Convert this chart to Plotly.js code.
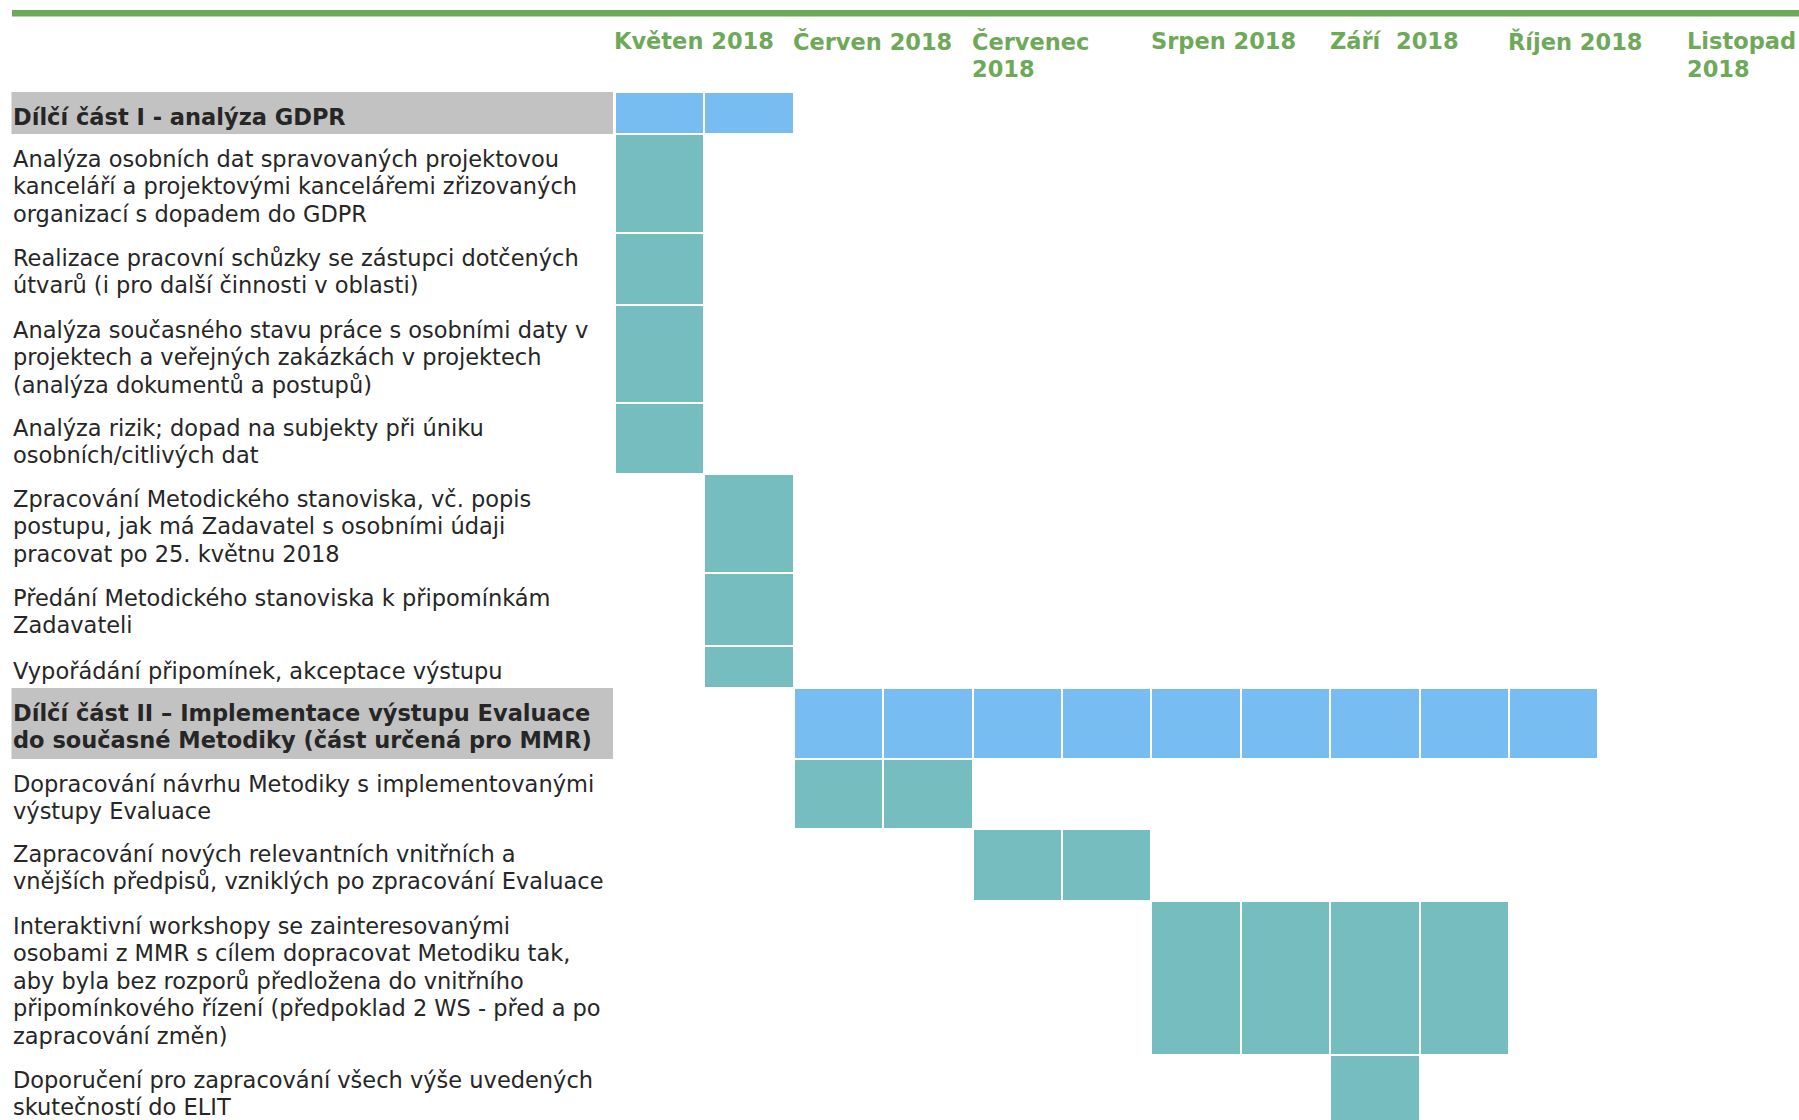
<!DOCTYPE html>
<html>
<head>
<meta charset="utf-8">
<script src="https://cdn.plot.ly/plotly-3.0.1.min.js"></script>
<style>html,body{margin:0;padding:0;background:#fff;}#chart{width:1799px;height:1120px;}</style>
</head>
<body>
<div id="chart"></div>
<script>
// ---- data ----
const monthLabels = ["Květen 2018", "Červen 2018", "Červenec\n2018", "Srpen 2018", "Září\u00a0 2018", "Říjen 2018", "Listopad\n2018"];
const halvesPerMonth = 2;

const rowLabels = [
  "Dílčí část I - analýza GDPR",
  "Analýza osobních dat spravovaných projektovou\nkanceláří a projektovými kancelářemi zřizovaných\norganizací s dopadem do GDPR",
  "Realizace pracovní schůzky se zástupci dotčených\nútvarů (i pro další činnosti v oblasti)",
  "Analýza současného stavu práce s osobními daty v\nprojektech a veřejných zakázkách v projektech\n(analýza dokumentů a postupů)",
  "Analýza rizik; dopad na subjekty při úniku\nosobních/citlivých dat",
  "Zpracování Metodického stanoviska, vč. popis\npostupu, jak má Zadavatel s osobními údaji\npracovat po 25. květnu 2018",
  "Předání Metodického stanoviska k připomínkám\nZadavateli",
  "Vypořádání připomínek, akceptace výstupu",
  "Dílčí část II – Implementace výstupu Evaluace\ndo současné Metodiky (část určená pro MMR)",
  "Dopracování návrhu Metodiky s implementovanými\nvýstupy Evaluace",
  "Zapracování nových relevantních vnitřních a\nvnějších předpisů, vzniklých po zpracování Evaluace",
  "Interaktivní workshopy se zainteresovanými\nosobami z MMR s cílem dopracovat Metodiku tak,\naby byla bez rozporů předložena do vnitřního\npřipomínkového řízení (předpoklad 2 WS - před a po\nzapracování změn)",
  "Doporučení pro zapracování všech výše uvedených\nskutečností do ELIT"
];
const isSection = [true, false, false, false, false, false, false, false, true, false, false, false, false];
// start and length in half-month periods, counted from the first half of May 2018
const startHalf = [0, 0, 0, 0, 0, 1, 1, 1, 2, 2, 4, 6, 8];
const spanHalf  = [2, 1, 1, 1, 1, 1, 1, 1, 9, 2, 2, 4, 1];
const rowHeights = [42, 99, 72, 98, 71, 99, 73, 42, 71, 70, 72, 154, 72];

// ---- layout constants ----
const W = 1799, H = 1120;
const cellPx = 89.4;       // width of one half-month column
const chartLeftPx = 615;   // left edge of the first column
const tableTop = 92;
const labelLeftPx = 11;
const lineStep = 27.4;
const firstLineOffset = 25;
const fontFamily = "'DejaVu Sans', Verdana, sans-serif";
const green = "#6ea95a";
const blue = "#77bdf2";
const teal = "#75bdbe";
const grey = "#c2c2c2";

const nCols = monthLabels.length * halvesPerMonth;
const xEdges = [];
for (let i = 0; i <= nCols; i++) xEdges.push(i);
const yEdges = [tableTop];
rowHeights.forEach((h, i) => yEdges.push(yEdges[i] + h));

const z = rowLabels.map((_, r) => {
  const row = [];
  for (let c = 0; c < nCols; c++) {
    row.push(c >= startHalf[r] && c < startHalf[r] + spanHalf[r] ? (isSection[r] ? 1 : 2) : null);
  }
  return row;
});

const trace = {
  type: "heatmap",
  x: xEdges,
  y: yEdges,
  z: z,
  zmin: 1, zmax: 2,
  colorscale: [[0, blue], [0.5, blue], [0.5, teal], [1, teal]],
  showscale: false,
  xgap: 2, ygap: 2,
  hoverinfo: "skip"
};

const shapes = [];
const annotations = [];
const px2paperX = p => p / W;

// top green rule
shapes.push({type: "rect", xref: "paper", yref: "y", x0: px2paperX(12), x1: 1, y0: 10, y1: 16.5,
  fillcolor: green, line: {width: 0}, layer: "below"});

// grey bands for section rows
rowLabels.forEach((_, r) => {
  if (isSection[r]) {
    shapes.push({type: "rect", xref: "paper", yref: "y", x0: px2paperX(11.5), x1: px2paperX(613),
      y0: yEdges[r], y1: yEdges[r + 1], fillcolor: grey, line: {width: 0}, layer: "below"});
  }
});

// row labels, one annotation per line
rowLabels.forEach((lbl, r) => {
  lbl.split("\n").forEach((line, i) => {
    annotations.push({
      xref: "paper", yref: "y", x: px2paperX(labelLeftPx), y: yEdges[r] + firstLineOffset + i * lineStep,
      xanchor: "left", yanchor: "middle", showarrow: false, align: "left",
      text: isSection[r] ? "<b>" + line + "</b>" : line,
      font: {family: fontFamily, size: 22.5, color: "#262626"}
    });
  });
});

// month headers
const monthHeaderTop = 41;
monthLabels.forEach((m, k) => {
  m.split("\n").forEach((line, i) => {
    annotations.push({
      xref: "x", yref: "y", x: k * halvesPerMonth - 0.03, y: monthHeaderTop + i * 28,
      xanchor: "left", yanchor: "middle", showarrow: false, align: "left",
      text: "<b>" + line + "</b>",
      font: {family: fontFamily, size: 22.5, color: green}
    });
  });
});

const layout = {
  width: W, height: H,
  margin: {l: 0, r: 0, t: 0, b: 0, pad: 0},
  paper_bgcolor: "#ffffff", plot_bgcolor: "#ffffff",
  showlegend: false,
  xaxis: {range: [-chartLeftPx / cellPx, (W - chartLeftPx) / cellPx], visible: false, fixedrange: true},
  yaxis: {range: [H, 0], visible: false, fixedrange: true},
  shapes: shapes,
  annotations: annotations
};

Plotly.newPlot("chart", [trace], layout, {displayModeBar: false, staticPlot: true});
</script>
</body>
</html>
